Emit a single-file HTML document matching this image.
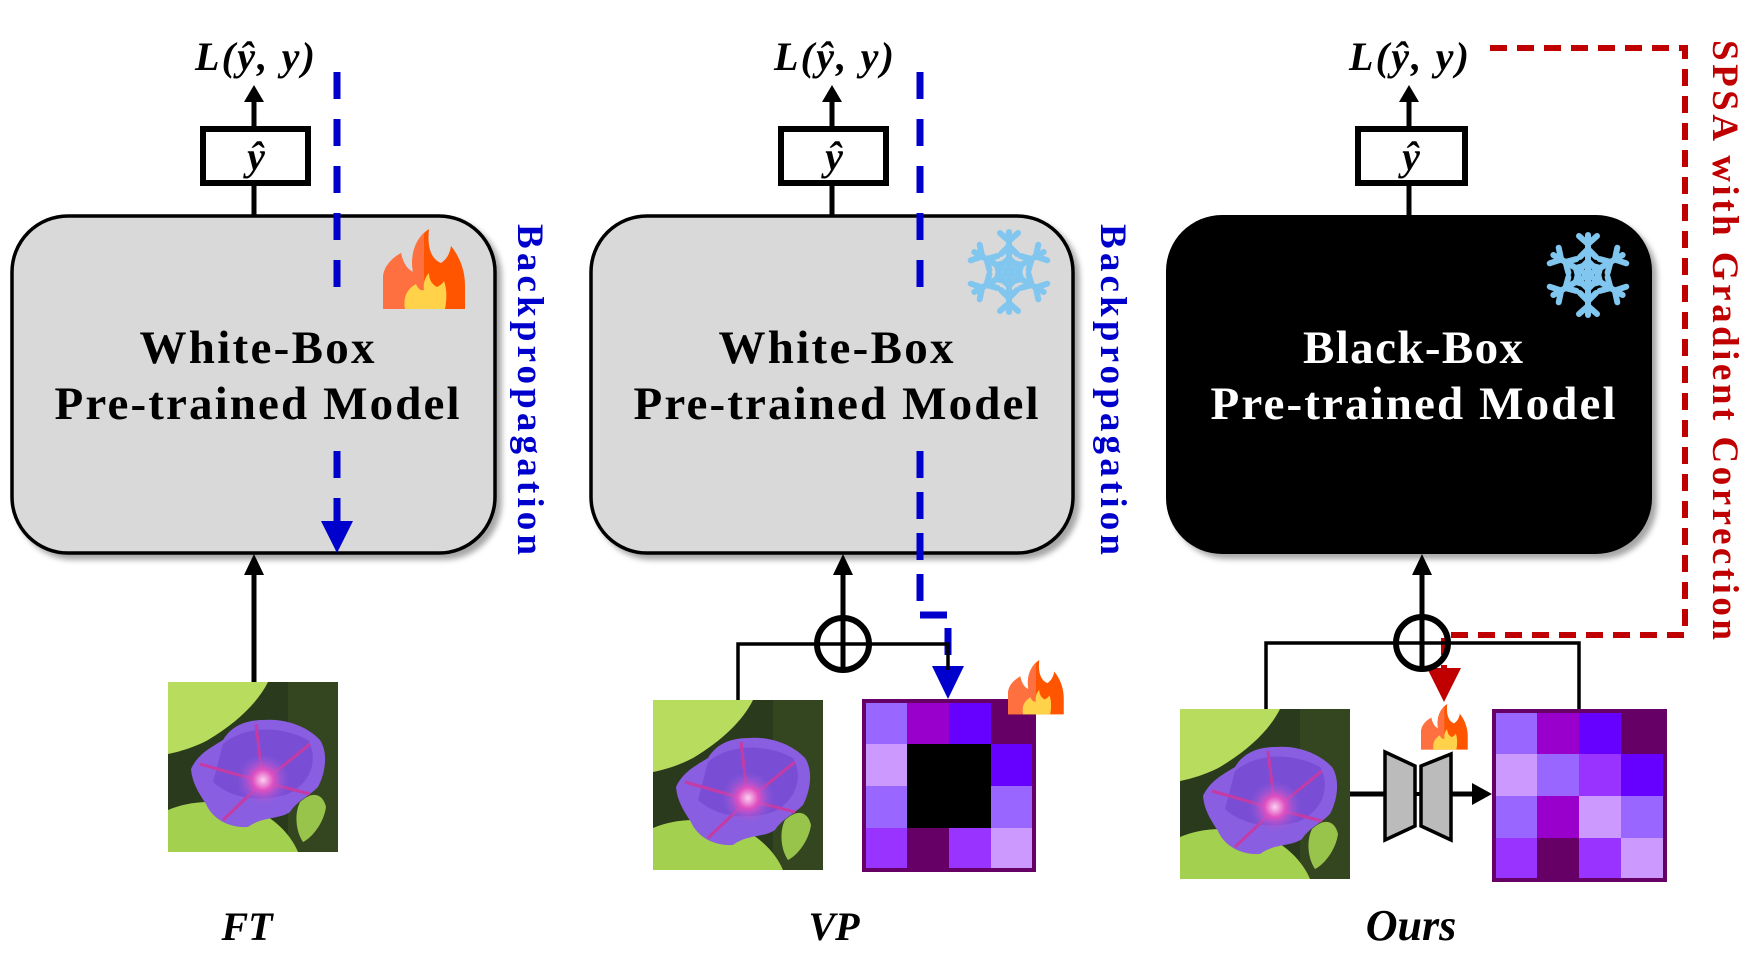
<!DOCTYPE html>
<html><head><meta charset="utf-8"><style>
html,body{margin:0;padding:0;background:#fff;}
svg{display:block;}
text{font-family:"Liberation Serif",serif;font-weight:bold;}
</style></head><body>
<svg width="1750" height="962" viewBox="0 0 1750 962" xmlns="http://www.w3.org/2000/svg">
<defs>
<filter id="sh" x="-5%" y="-5%" width="115%" height="115%"><feDropShadow dx="5" dy="5" stdDeviation="3" flood-color="#000" flood-opacity="0.35"/></filter>
<clipPath id="fl"><rect x="0" y="0" width="41" height="80"/></clipPath>
<radialGradient id="pc" cx="0.5" cy="0.5" r="0.5"><stop offset="0" stop-color="#fbd0f0"/><stop offset="0.4" stop-color="#e04fc0"/><stop offset="1" stop-color="#8a5ee0" stop-opacity="0"/></radialGradient>
<g id="fire">
<path d="M0,80 L0,50 C0,38 8,30 18,24 C20,34 24,40 30,43 C27,26 32,9 46,0 C44,18 48,30 58,34 C64,30 67,24 68,17 C77,28 82,42 82,56 L82,80 Z" fill="#ff5500"/>
<path clip-path="url(#fl)" d="M0,80 L0,50 C0,38 8,30 18,24 C20,34 24,40 30,43 C27,26 32,9 46,0 C44,18 48,30 58,34 C64,30 67,24 68,17 C77,28 82,42 82,56 L82,80 Z" fill="#ff7040"/>
<path d="M22,80 C20,68 24,60 33,55 C35,60 38,62 41,61 C40,54 42,48 46,44 C46,52 50,56 54,58 C58,56 60,54 61,52 C64,60 64,70 62,80 Z" fill="#ffd24a"/>
</g>
<g id="snow" stroke="#80c6ef" stroke-width="6" stroke-linecap="round" fill="none">
<g id="arm"><line x1="0" y1="0" x2="0" y2="-40"/><polyline points="-9,-39 0,-31 9,-39"/><polyline points="-8,-18 0,-26 8,-18"/><polyline points="-6,-8 0,-14 6,-8"/></g>
<use href="#arm" transform="rotate(60)"/><use href="#arm" transform="rotate(120)"/><use href="#arm" transform="rotate(180)"/><use href="#arm" transform="rotate(240)"/><use href="#arm" transform="rotate(300)"/>
</g>
<g id="flower">
<rect width="170" height="170" fill="#2a3a1c"/>
<rect x="120" y="0" width="50" height="170" fill="#34461f"/>
<path d="M0,0 L100,0 C90,20 70,40 40,58 C25,66 10,70 0,72 Z" fill="#b8dc5e"/>
<path d="M0,128 C30,115 70,118 100,135 C115,145 125,158 130,170 L0,170 Z" fill="#a3d04e"/>
<path d="M132,120 C145,108 155,112 158,125 C156,140 145,155 135,160 C128,150 126,132 132,120 Z" fill="#98c44c"/>
<path d="M23,87 C30,72 42,66 55,58 C62,46 75,38 95,38 C118,36 140,45 152,58 C160,70 158,90 150,105 C140,115 130,118 122,130 C110,138 95,134 80,145 C62,146 45,138 38,122 C30,110 24,100 23,87 Z" fill="#8a5ee0"/>
<path d="M55,62 C75,45 110,42 140,58 C150,75 145,100 120,112 C95,120 65,118 45,100 Z" fill="#7a4ed4"/>
<path d="M95,100 L88,42 M95,100 L142,62 M95,100 L32,82 M95,100 L55,138 M95,100 L142,112" stroke="#c53ba5" stroke-width="3"/>
<circle cx="95" cy="98" r="26" fill="url(#pc)"/>
</g>
</defs>

<!-- Panel 1 -->
<text x="195" y="70" font-size="40" font-style="italic" textLength="120">L(ŷ, y)</text>
<line x1="254" y1="100" x2="254" y2="128" stroke="#000" stroke-width="5"/>
<polygon points="244,102 264,102 254,85" fill="#000"/>
<rect x="203" y="129" width="105" height="54" fill="#fff" stroke="#000" stroke-width="6"/>
<text x="256" y="170" font-size="40" font-style="italic" text-anchor="middle">ŷ</text>
<line x1="254" y1="186" x2="254" y2="216" stroke="#000" stroke-width="5"/>
<rect x="12" y="216" width="483" height="337" rx="56" fill="#d9d9d9" stroke="#000" stroke-width="3.5" filter="url(#sh)"/>
<text x="257" y="363" font-size="47" text-anchor="middle" textLength="235">White-Box</text>
<text x="257" y="419" font-size="47" text-anchor="middle" textLength="405">Pre-trained Model</text>
<use href="#fire" x="383" y="229"/>
<line x1="337" y1="72" x2="337" y2="290" stroke="#0000cc" stroke-width="7" stroke-dasharray="27 20"/>
<line x1="337" y1="451" x2="337" y2="522" stroke="#0000cc" stroke-width="7" stroke-dasharray="27 20"/>
<polygon points="321,521 353,521 337,553" fill="#0000cc"/>
<text transform="translate(518,224) rotate(90)" font-size="37" fill="#0000cc" textLength="331">Backpropagation</text>
<line x1="254" y1="682" x2="254" y2="572" stroke="#000" stroke-width="5"/>
<polygon points="244,575 264,575 254,554" fill="#000"/>
<use href="#flower" x="168" y="682"/>
<text x="247" y="940" font-size="40" font-style="italic" text-anchor="middle">FT</text>

<!-- Panel 2 -->
<text x="774" y="70" font-size="40" font-style="italic" textLength="120">L(ŷ, y)</text>
<line x1="832" y1="100" x2="832" y2="128" stroke="#000" stroke-width="5"/>
<polygon points="822,102 842,102 832,85" fill="#000"/>
<rect x="781" y="129" width="105" height="54" fill="#fff" stroke="#000" stroke-width="6"/>
<text x="834" y="170" font-size="40" font-style="italic" text-anchor="middle">ŷ</text>
<line x1="832" y1="186" x2="832" y2="216" stroke="#000" stroke-width="5"/>
<rect x="591" y="216" width="482" height="337" rx="56" fill="#d9d9d9" stroke="#000" stroke-width="3.5" filter="url(#sh)"/>
<text x="836" y="363" font-size="47" text-anchor="middle" textLength="235">White-Box</text>
<text x="836" y="419" font-size="47" text-anchor="middle" textLength="405">Pre-trained Model</text>
<use href="#snow" transform="translate(1009,272)"/>
<line x1="920" y1="72" x2="920" y2="290" stroke="#0000cc" stroke-width="7" stroke-dasharray="27 20"/>
<polyline points="920,451 920,615 948,615 948,668" fill="none" stroke="#0000cc" stroke-width="7" stroke-dasharray="27 14"/>
<polygon points="932,666 964,666 948,699" fill="#0000cc"/>
<text transform="translate(1101,224) rotate(90)" font-size="37" fill="#0000cc" textLength="331">Backpropagation</text>
<line x1="843" y1="617" x2="843" y2="572" stroke="#000" stroke-width="5"/>
<polygon points="833,575 853,575 843,554" fill="#000"/>
<polyline points="738,700 738,644 948,644 948,670" fill="none" stroke="#000" stroke-width="3.5"/>
<circle cx="843" cy="644" r="26" fill="none" stroke="#000" stroke-width="6"/>
<line x1="843" y1="618" x2="843" y2="670" stroke="#000" stroke-width="5"/>
<use href="#flower" x="653" y="700"/>
<g transform="translate(862,699)">
<rect x="0" y="0" width="174" height="173" fill="#660066"/>
<rect x="4" y="4" width="41" height="41" fill="#9966ff"/><rect x="45" y="4" width="42" height="41" fill="#9900cc"/><rect x="87" y="4" width="42" height="41" fill="#6600ff"/><rect x="129" y="4" width="41" height="41" fill="#660066"/>
<rect x="4" y="45" width="41" height="42" fill="#cc99ff"/><rect x="129" y="45" width="41" height="42" fill="#6600ff"/>
<rect x="4" y="87" width="41" height="42" fill="#9966ff"/><rect x="129" y="87" width="41" height="42" fill="#9966ff"/>
<rect x="45" y="45" width="84" height="84" fill="#000"/>
<rect x="4" y="129" width="41" height="40" fill="#9933ff"/><rect x="45" y="129" width="42" height="40" fill="#660066"/><rect x="87" y="129" width="42" height="40" fill="#9933ff"/><rect x="129" y="129" width="41" height="40" fill="#cc99ff"/>
</g>
<use href="#fire" transform="translate(1008,660) scale(0.68)"/>
<text x="834" y="940" font-size="40" font-style="italic" text-anchor="middle">VP</text>

<!-- Panel 3 -->
<text x="1349" y="70" font-size="40" font-style="italic" textLength="120">L(ŷ, y)</text>
<line x1="1409" y1="100" x2="1409" y2="128" stroke="#000" stroke-width="5"/>
<polygon points="1399,102 1419,102 1409,85" fill="#000"/>
<rect x="1358" y="129" width="107" height="54" fill="#fff" stroke="#000" stroke-width="6"/>
<text x="1411" y="170" font-size="40" font-style="italic" text-anchor="middle">ŷ</text>
<line x1="1409" y1="186" x2="1409" y2="216" stroke="#000" stroke-width="5"/>
<rect x="1166" y="215" width="486" height="339" rx="56" fill="#000" filter="url(#sh)"/>
<text x="1413" y="363" font-size="47" text-anchor="middle" fill="#fff" textLength="220">Black-Box</text>
<text x="1413" y="419" font-size="47" text-anchor="middle" fill="#fff" textLength="405">Pre-trained Model</text>
<use href="#snow" transform="translate(1588,275)"/>
<polyline points="1490,48 1685,48 1685,635 1444,635 1444,668" fill="none" stroke="#c00000" stroke-width="6" stroke-dasharray="17 10"/>
<polygon points="1427,668 1461,668 1444,702" fill="#c00000"/>
<text transform="translate(1713,40) rotate(90)" font-size="37" fill="#c00000" textLength="600">SPSA with Gradient Correction</text>
<line x1="1422" y1="617" x2="1422" y2="572" stroke="#000" stroke-width="5"/>
<polygon points="1412,575 1432,575 1422,554" fill="#000"/>
<polyline points="1266,709 1266,643 1579,643 1579,709" fill="none" stroke="#000" stroke-width="3.5"/>
<circle cx="1422" cy="643" r="26" fill="none" stroke="#000" stroke-width="6"/>
<line x1="1422" y1="617" x2="1422" y2="669" stroke="#000" stroke-width="5"/>
<use href="#flower" x="1180" y="709"/>
<line x1="1350" y1="794" x2="1385" y2="794" stroke="#000" stroke-width="5"/>
<line x1="1414" y1="794" x2="1423" y2="794" stroke="#000" stroke-width="4"/>
<line x1="1450" y1="794" x2="1474" y2="794" stroke="#000" stroke-width="5"/>
<polygon points="1472,783 1492,794 1472,805" fill="#000"/>
<polygon points="1385,752 1415,766 1415,826 1385,840" fill="#bbb" stroke="#000" stroke-width="3.5"/>
<polygon points="1451,754 1421,766 1421,826 1451,840" fill="#bbb" stroke="#000" stroke-width="3.5"/>
<use href="#fire" transform="translate(1421,704) scale(0.57)"/>
<g transform="translate(1492,709)">
<rect x="0" y="0" width="175" height="173" fill="#660066"/>
<rect x="4" y="4" width="41" height="41" fill="#9966ff"/><rect x="45" y="4" width="42" height="41" fill="#9900cc"/><rect x="87" y="4" width="42" height="41" fill="#6600ff"/><rect x="129" y="4" width="42" height="41" fill="#660066"/>
<rect x="4" y="45" width="41" height="42" fill="#cc99ff"/><rect x="45" y="45" width="42" height="42" fill="#9966ff"/><rect x="87" y="45" width="42" height="42" fill="#9933ff"/><rect x="129" y="45" width="42" height="42" fill="#6600ff"/>
<rect x="4" y="87" width="41" height="42" fill="#9966ff"/><rect x="45" y="87" width="42" height="42" fill="#9900cc"/><rect x="87" y="87" width="42" height="42" fill="#cc99ff"/><rect x="129" y="87" width="42" height="42" fill="#9966ff"/>
<rect x="4" y="129" width="41" height="40" fill="#9933ff"/><rect x="45" y="129" width="42" height="40" fill="#660066"/><rect x="87" y="129" width="42" height="40" fill="#9933ff"/><rect x="129" y="129" width="42" height="40" fill="#cc99ff"/>
</g>
<text x="1411" y="940" font-size="44" font-style="italic" text-anchor="middle">Ours</text>
</svg>
</body></html>
